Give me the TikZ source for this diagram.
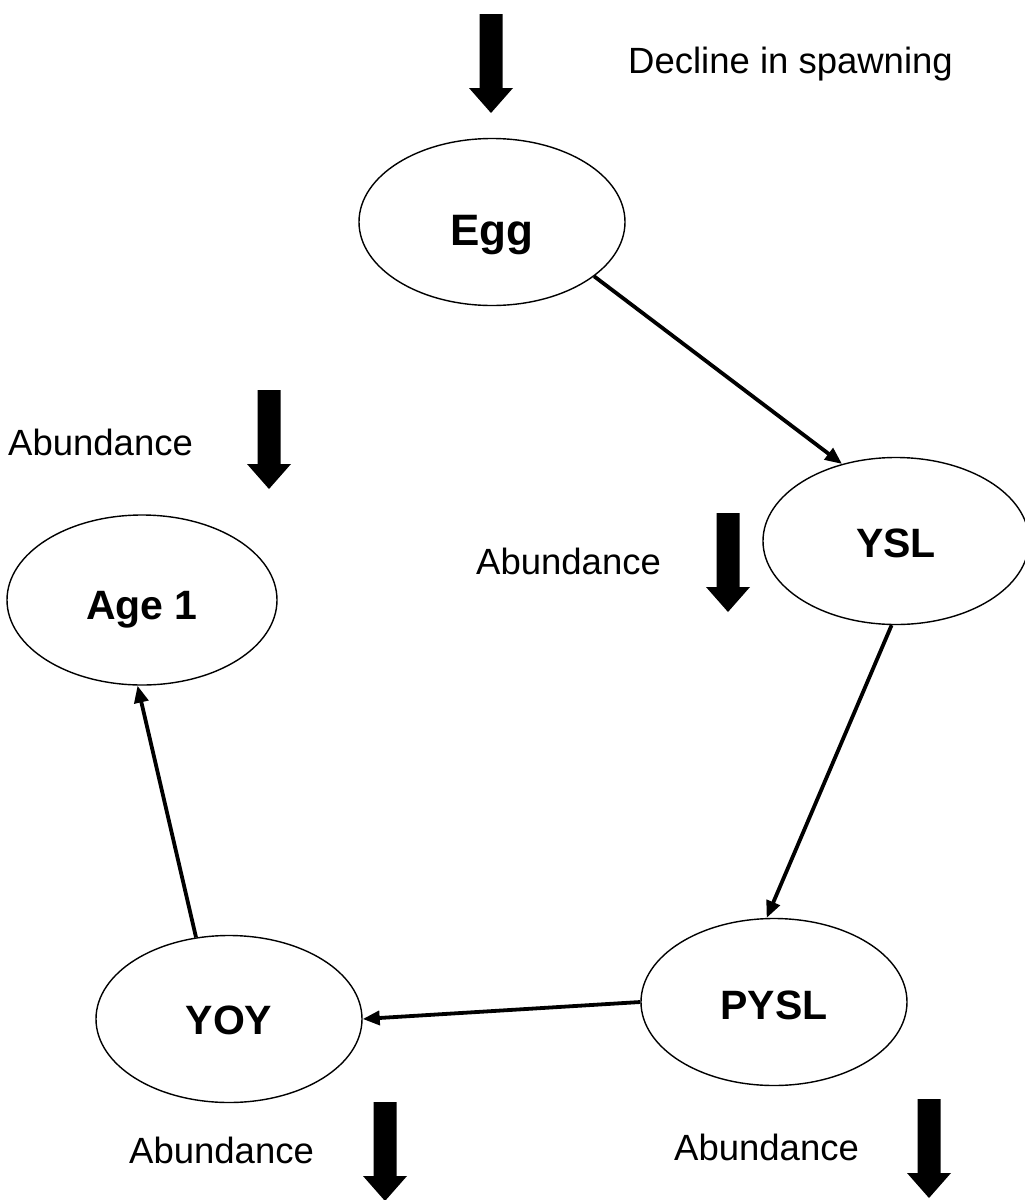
\documentclass[tikz,border=0pt]{standalone}
\usepackage{fontspec}
\setmainfont{Liberation Sans}
\usetikzlibrary{shapes.geometric,arrows.meta}
\begin{document}
\begin{tikzpicture}[x=1pt,y=-1pt,
  stage/.style={ellipse,draw,line width=1.4pt,inner sep=0pt,
    minimum width=266pt,minimum height=167pt,
    font=\fontsize{41}{44}\selectfont\bfseries},
  lbl/.style={anchor=base west,inner sep=0pt,font=\fontsize{36.5}{40}\selectfont},
  flow/.style={line width=3.8pt,-{Triangle[length=17pt,width=14pt]}},
  bigarrow/.pic={\fill (-11.5,0) -- (11.5,0) -- (11.5,74) -- (22,74) -- (0,99) -- (-22,74) -- (-11.5,74) -- cycle;}
]
\useasboundingbox (0,0) rectangle (1025,1200);

% stages
\node[stage,font=\fontsize{44}{48}\selectfont\bfseries] (egg) at (492,222) {\raisebox{-23.75pt}[0pt][0pt]{Egg}};
\node[stage] (ysl) at (896,541) {\raisebox{-16pt}[0pt][0pt]{YSL}};
\node[stage] (pysl) at (774,1002) {\raisebox{-17.7pt}[0pt][0pt]{PYSL}};
\node[stage] (yoy) at (229,1019) {\raisebox{-15.2pt}[0pt][0pt]{YOY}};
\node[stage,minimum width=270pt,minimum height=170pt] (age) at (142,600) {\raisebox{-19.7pt}[0pt][0pt]{Age 1}};

% connectors
\draw[flow] (egg.-28.5) -- (ysl.125);
\draw[flow] (ysl.-93) -- (pysl.95);
\draw[flow] (pysl.west) -- (yoy.east);
\draw[flow] (yoy.112) -- (age.-93);

% labels
\node[lbl] (t0) at (628,73) {Decline in spawning};
\node[lbl] (t1) at (8,455) {Abundance};
\node[lbl] (t2) at (476,574) {Abundance};
\node[lbl] (t3) at (129,1163) {Abundance};
\node[lbl] (t4) at (674,1160) {Abundance};

% big decline arrows
\pic at (491,14) {bigarrow};
\pic at (269,390) {bigarrow};
\pic at (728,513) {bigarrow};
\pic at (385,1102) {bigarrow};
\pic at (929,1099) {bigarrow};
\end{tikzpicture}
\end{document}
